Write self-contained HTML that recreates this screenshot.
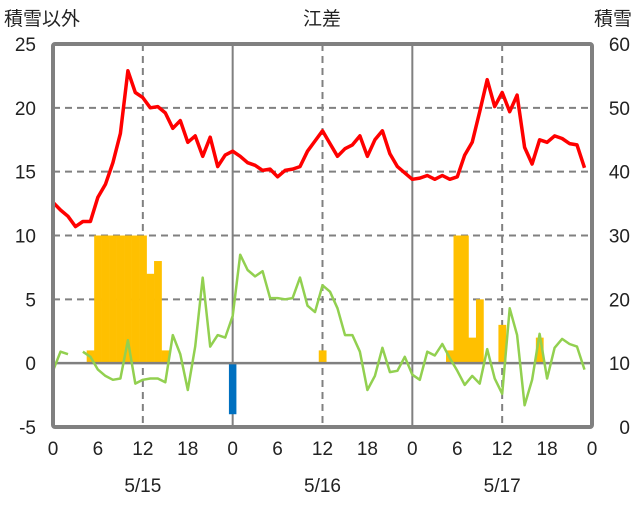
<!DOCTYPE html>
<html><head><meta charset="utf-8"><style>
html,body{margin:0;padding:0;background:#fff;}
svg text{font-family:"Liberation Sans","Noto Sans CJK JP",sans-serif;fill:#222;}
</style></head><body>
<svg id="chart" width="636" height="501" xmlns="http://www.w3.org/2000/svg"></svg>
<script>
const hours = [];
for (let i = 0; i < 72; i++) hours.push(i);
const tempLine = [12.6,12.0,11.5,10.7,11.1,11.1,13.0,14.0,15.7,18.0,22.9,21.2,20.8,20.0,20.1,19.6,18.4,19.0,17.3,17.8,16.2,17.7,15.4,16.3,
16.6,16.2,15.7,15.5,15.1,15.2,14.6,15.1,15.2,15.4,16.6,17.4,18.2,17.2,16.2,16.8,17.1,17.8,16.2,17.5,18.2,16.4,15.4,14.9,
14.4,14.5,14.7,14.4,14.7,14.4,14.6,16.3,17.3,19.7,22.2,20.1,21.2,19.7,21.0,16.9,15.6,17.5,17.3,17.8,17.6,17.2,17.1,15.3];
const greenLine = [-0.6,0.9,0.7,null,0.9,0.5,-0.5,-1.0,-1.3,-1.2,1.8,-1.6,-1.3,-1.2,-1.2,-1.5,2.2,0.7,-2.1,1.3,6.7,1.3,2.2,2.0,
3.7,8.5,7.3,6.8,7.2,5.1,5.1,5.0,5.1,6.7,4.5,4.0,6.1,5.6,4.3,2.2,2.2,0.9,-2.1,-1.0,1.2,-0.7,-0.6,0.5,
-0.9,-1.3,0.9,0.6,1.5,0.4,-0.6,-1.7,-1.0,-1.6,1.1,-1.2,-2.4,4.3,2.2,-3.3,-1.3,2.3,-1.2,1.2,1.9,1.5,1.3,-0.5];
const orangeHours = [5,6,7,8,9,10,11,12,13,14,15,36,53,54,55,56,57,60,65];
const orangeVals  = [1,10,10,10,10,10,10,10,7,8,1,1,1,10,10,2,5,3,2];
const blueHours = [24];
const blueVals = [-4];
const leftTicks = [25,20,15,10,5,0,-5];
const rightTicks = [60,50,40,30,20,10,0];
const xTickLabels = ["0","6","12","18","0","6","12","18","0","6","12","18","0"];
const dateLabels = ["5/15","5/16","5/17"];

const NS="http://www.w3.org/2000/svg";
const svg=document.getElementById('chart');
const L=53,R=592,T=44,B=427;
const x=h=>L+(R-L)*h/72;
const y=v=>T+(B-T)*(25-v)/30;
const yR=v=>T+(B-T)*(60-v)/60;
function mk(tag,attrs,parent){const e=document.createElementNS(NS,tag);for(const k in attrs)e.setAttribute(k,attrs[k]);(parent||svg).appendChild(e);return e;}

// grid
[20,15,10,5].forEach(v=>{
  const g=mk('line',{x1:L,x2:R,y1:y(v),y2:y(v),stroke:'#808080','stroke-width':2,'stroke-dasharray':'7,5'});
  
  
});
[12,36,60].forEach(h=>{
  const g=mk('line',{x1:x(h),x2:x(h),y1:T,y2:B,stroke:'#808080','stroke-width':2,'stroke-dasharray':'7,5'});
  
  
});
[24,48].forEach(h=>{
  const g=mk('line',{x1:x(h),x2:x(h),y1:T,y2:B,stroke:'#808080','stroke-width':2});
  
  
});

// bars
const bw=(R-L)/72;
orangeHours.forEach((h,i)=>{
  const v=orangeVals[i];
  const r=mk('rect',{x:x(h)-bw/2,y:y(v),width:bw+0.3,height:y(0)-y(v),fill:'#FFC000'});
  
  
});
blueHours.forEach((h,i)=>{
  const v=blueVals[i];
  const r=mk('rect',{x:x(h)-bw/2,y:y(0),width:bw,height:y(v)-y(0),fill:'#0070C0'});
  
  
});

// zero line
const z=mk('line',{x1:L,x2:R,y1:y(0),y2:y(0),stroke:'#808080','stroke-width':2.5});



function linePath(arr){let d='',pen=false;arr.forEach((v,i)=>{if(v===null){pen=false;return;}d+=(pen?'L':'M')+x(hours[i]).toFixed(1)+','+y(v).toFixed(1);pen=true;});return d;}
const gl=mk('path',{d:linePath(greenLine),fill:'none',stroke:'#92D050','stroke-width':2.5,'stroke-linejoin':'round'});


const rl=mk('path',{d:linePath(tempLine),fill:'none',stroke:'#FF0000','stroke-width':3.5,'stroke-linejoin':'round'});



// frame
const fr=mk('rect',{x:L,y:T,width:R-L,height:B-T,fill:'none',stroke:'#808080','stroke-width':4,rx:2});



// ticks
leftTicks.forEach(v=>{
  const t=mk('text',{x:36,y:y(v)+7,'text-anchor':'end','font-size':19});
  t.textContent=v;
  
  
});
rightTicks.forEach(v=>{
  const t=mk('text',{x:630,y:yR(v)+7,'text-anchor':'end','font-size':19});
  t.textContent=v;
  
  
});
xTickLabels.forEach((s,i)=>{
  const t=mk('text',{x:x(i*6),y:455,'text-anchor':'middle','font-size':19});
  t.textContent=s;
  
  
});
dateLabels.forEach((s,i)=>{
  const t=mk('text',{x:x(12+24*i),y:492,'text-anchor':'middle','font-size':19});
  t.textContent=s;
  
  
});
const t1=mk('text',{x:4,y:25,'font-size':19});t1.textContent='積雪以外';


const t2=mk('text',{x:322,y:25,'text-anchor':'middle','font-size':19});t2.textContent='江差';


const t3=mk('text',{x:632,y:25,'text-anchor':'end','font-size':19});t3.textContent='積雪';


</script>
</body></html>
